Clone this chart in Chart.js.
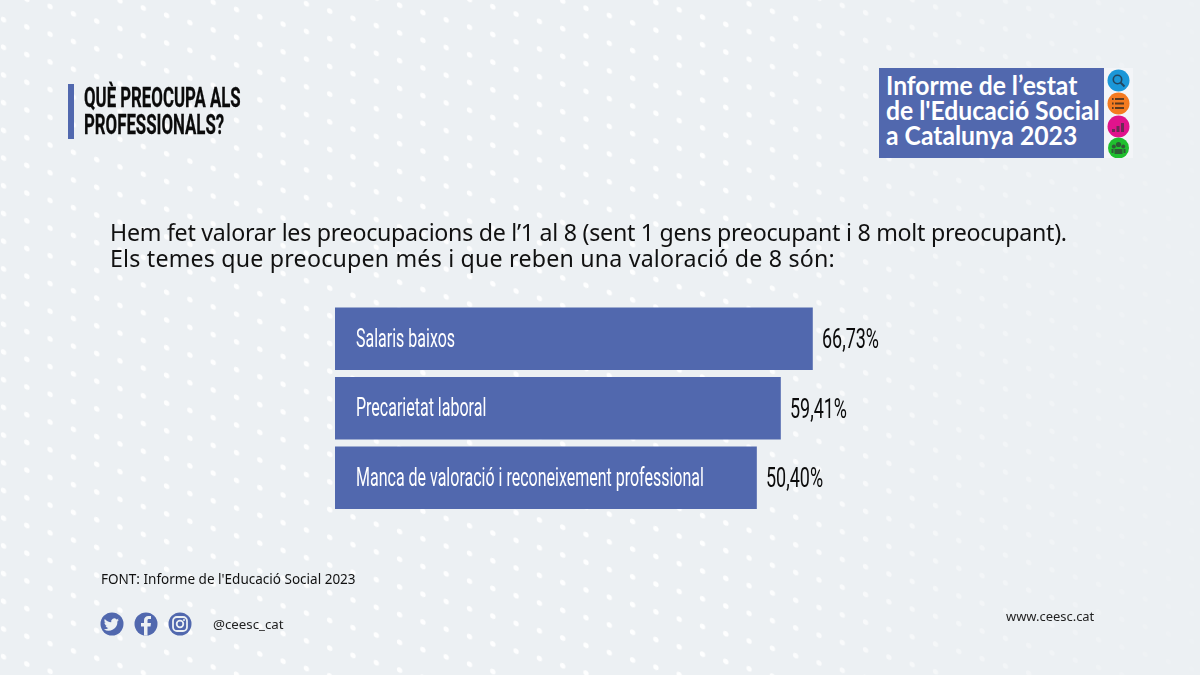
<!DOCTYPE html>
<html lang="ca">
<head>
<meta charset="utf-8">
<title>Què preocupa als professionals?</title>
<script src="https://cdn.jsdelivr.net/npm/chart.js@4/dist/chart.umd.min.js"></script>
<style>
html,body{margin:0;padding:0;background:#ecf0f3;}
#page{position:relative;width:1200px;height:675px;overflow:hidden;background:#ecf0f3;font-family:"Noto Sans",sans-serif;color:#111;}
#page>*{position:absolute;}
#dots{left:0;top:0;width:1200px;height:675px;}
#chartBox{left:0;top:0;width:1200px;height:675px;}
.t{white-space:nowrap;transform-origin:0 0;}
#accent{left:68px;top:84px;width:6px;height:55px;background:#5168ae;}
#title{left:84px;top:84px;font:700 28px/27px "Roboto",sans-serif;color:#0b0b0b;transform:scaleX(.6);-webkit-text-stroke:.3px #0b0b0b;}
#intro{left:110px;top:219px;font-size:23.2px;line-height:26px;color:#111;}
#intro .a{letter-spacing:-.27px;}
#intro .b{letter-spacing:.2px;}
#logo{left:879px;top:68px;width:225px;height:90px;background:#5168ae;}
#logoText{left:886px;top:73px;font:700 26px/25px "Lato",sans-serif;color:#fff;transform:scaleX(.95);}
#strip{left:1104px;top:68px;width:29px;height:90px;background:#f3f5f8;}
#src{left:101px;top:571px;font-size:13.53px;line-height:17px;color:#111;}
#handle{left:213px;top:616px;font-size:13.3px;line-height:17px;color:#222;}
#web{left:1006px;top:608px;font-size:12.94px;line-height:17px;color:#222;}
</style>
</head>
<body>
<div id="page">
  <svg id="dots" viewBox="0 0 1200 675">
    <defs>
      <pattern id="dotGrid" width="23.3" height="27.7" patternUnits="userSpaceOnUse" patternTransform="translate(0 0) skewY(17.4)">
        <circle cx="3.5" cy="18.5" r="2.7" fill="#fff"/>
      </pattern>
      <linearGradient id="fade" x1="0" x2="1" y1="0" y2="0">
        <stop offset="0" stop-color="#fff" stop-opacity=".9"/>
        <stop offset=".6" stop-color="#fff" stop-opacity=".95"/>
        <stop offset=".8" stop-color="#fff" stop-opacity=".4"/>
        <stop offset="1" stop-color="#fff" stop-opacity=".08"/>
      </linearGradient>
      <mask id="fadeMask"><rect width="1200" height="675" fill="url(#fade)"/></mask>
    </defs>
    <rect width="1200" height="675" fill="url(#dotGrid)" mask="url(#fadeMask)"/>
  </svg>

  <div id="chartBox"><canvas id="chart" width="1200" height="675"></canvas></div>

  <div id="accent"></div>
  <div id="title" class="t">QUÈ PREOCUPA ALS<br>PROFESSIONALS?</div>
  <div id="intro" class="t"><span class="a">Hem fet valorar les preocupacions de l’1 al 8 (sent 1 gens preocupant i 8 molt preocupant).</span><br><span class="b">Els temes que preocupen més i que reben una valoració de 8 són:</span></div>

  <div id="logo"></div>
  <div id="logoText" class="t">Informe de l’estat<br>de l'Educació Social<br>a Catalunya 2023</div>
  <div id="strip"></div>
  <svg style="left:1104px;top:68px" width="29" height="90" viewBox="0 0 29 90">
    <circle cx="14.5" cy="12.5" r="11" fill="#1b97d8"/>
    <circle cx="13.5" cy="11.5" r="4.2" fill="none" stroke="#24465f" stroke-width="1.6"/>
    <path d="M16.5 14.5l4 4" stroke="#24465f" stroke-width="2"/>
    <circle cx="14.5" cy="35.5" r="11" fill="#f47b20"/>
    <path d="M11 31h9M11 35.5h9M11 40h9" stroke="#5a3a20" stroke-width="1.8"/>
    <path d="M8 31h1.6M8 35.5h1.6M8 40h1.6" stroke="#5a3a20" stroke-width="1.8"/>
    <circle cx="14.5" cy="58.5" r="11" fill="#e0138c"/>
    <path d="M8 64v-3h3v3zM12.5 64v-6h3v6zM17 64v-9h3v9z" fill="#6b2a55"/>
    <circle cx="14.5" cy="80" r="10.5" fill="#1fbf2e"/>
    <circle cx="14.5" cy="76.5" r="2.6" fill="#2f5a36"/><circle cx="9.8" cy="78.5" r="2" fill="#2f5a36"/><circle cx="19.2" cy="78.5" r="2" fill="#2f5a36"/>
    <path d="M10.5 86v-5h8v5zM7.500 85v-4h2v4zM19.500 85v-4h2v4z" fill="#2f5a36"/>
  </svg>

  <div id="src" class="t">FONT: Informe de l'Educació Social 2023</div>
  <svg style="left:100px;top:612px" width="92" height="24" viewBox="0 0 92 24">
    <circle cx="12" cy="12" r="11.500" fill="#5168ae"/>
    <path d="M19 7.800c-.6.300-1.200.4-1.800.5.600-.4 1.100-1 1.300-1.700-.6.400-1.300.6-2 .8a3.100 3.100 0 0 0-5.300 2.800c-2.600-.1-4.900-1.400-6.400-3.300-.8 1.400-.4 3.200 1 4.100-.5 0-1-.2-1.400-.4 0 1.500 1 2.800 2.500 3.100-.5.100-.9.100-1.400 0 .4 1.200 1.600 2.100 2.900 2.200a6.300 6.300 0 0 1-4.600 1.300 8.800 8.800 0 0 0 13.600-7.800c.6-.5 1.200-1 1.600-1.600z" fill="#ecf0f3"/>
    <circle cx="46" cy="12" r="11.500" fill="#5168ae"/>
    <path d="M47.500 23.500v-9h3l.5-3.500h-3.500V8.800c0-1 .3-1.700 1.700-1.700H51V4c-.4 0-1.400-.1-2.600-.1-2.600 0-4.400 1.600-4.400 4.500V11h-3v3.500h3v9z" fill="#ecf0f3"/>
    <circle cx="80" cy="12" r="11.500" fill="#5168ae"/>
    <rect x="73" y="5" width="14" height="14" rx="4" fill="none" stroke="#ecf0f3" stroke-width="1.800"/>
    <circle cx="80" cy="12" r="3.300" fill="none" stroke="#ecf0f3" stroke-width="1.800"/>
    <circle cx="84" cy="8" r="1" fill="#ecf0f3"/>
  </svg>
  <div id="handle" class="t">@ceesc_cat</div>
  <div id="web" class="t">www.ceesc.cat</div>
</div>

<script>
// Categories and printed percentages, as shown in the reference.
const categories = ['Salaris baixos', 'Precarietat laboral', 'Manca de valoració i reconeixement professional'];
const printedValues = [66.73, 59.41, 50.40];
// The reference's bars are NOT proportional to their printed percentages.
// These are the bar lengths as drawn, read off the picture and expressed on
// the scale set by the first bar (66.73); the labels keep the printed values.
const drawnLengths = [66.73, 62.26, 58.91];
const axisMax = 100;

const barColor = '#5168ae';
const formatPct = v => v.toFixed(2).replace('.', ',') + '%';

function narrowText(ctx, text, x, y, font, color, sx) {
  ctx.save();
  ctx.font = font;
  ctx.fillStyle = color;
  ctx.textAlign = 'left';
  ctx.textBaseline = 'middle';
  ctx.translate(x, y);
  ctx.scale(sx, 1);
  ctx.fillText(text, 0, 0);
  ctx.restore();
}

const barLabels = {
  id: 'barLabels',
  afterDatasetsDraw(chart) {
    const ctx = chart.ctx;
    chart.getDatasetMeta(0).data.forEach((bar, i) => {
      narrowText(ctx, categories[i], bar.base + 21, bar.y + 1.5, '400 25px Roboto', '#ffffff', 0.64);
      narrowText(ctx, formatPct(printedValues[i]), bar.x + 9.5, bar.y + 2.5, '400 27px Roboto', '#0b0b0b', 0.665);
    });
  }
};

new Chart(document.getElementById('chart'), {
  type: 'bar',
  data: {
    labels: categories,
    datasets: [{ data: drawnLengths, backgroundColor: barColor, borderWidth: 0, barThickness: 62 }]
  },
  options: {
    indexAxis: 'y',
    responsive: false,
    animation: false,
    layout: { padding: { left: 335, right: 149.5, top: 304, bottom: 162.5 } },
    plugins: { legend: { display: false }, tooltip: { enabled: false } },
    scales: {
      x: { display: false, min: 0, max: axisMax },
      y: { display: false }
    }
  },
  plugins: [barLabels]
});
</script>
</body>
</html>
